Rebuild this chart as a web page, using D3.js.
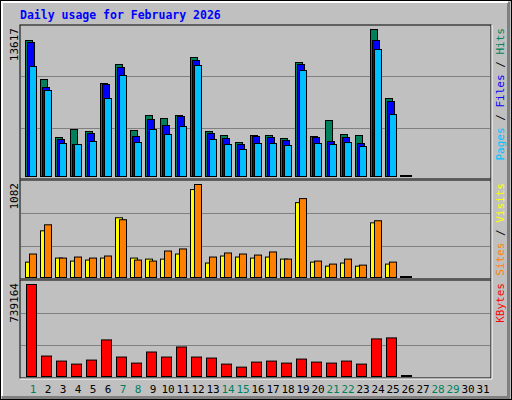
<!DOCTYPE html>
<html>
<meta charset="utf-8">
<style>
	body { margin: 0; background: #fff; }
	text { font-family: "DejaVu Sans Mono", monospace; }
</style>
<body>
<svg id="chart" width="512" height="400"></svg>
<script src="https://cdnjs.cloudflare.com/ajax/libs/d3/7.8.5/d3.min.js"></script>
<script>
	// values
	var days = d3.range(1, 32);
	var weekend = [1, 7, 8, 14, 15, 21, 22, 28, 29];
	var hits = [12598, 8985, 3613, 4354, 4168, 8615, 10375, 4261, 5650, 5373, 5650, 11023, 4168, 3798, 3149, 3798, 3798, 3520, 10560, 3705, 5187, 3890, 3798, 13617, 7225, 0];
	var files = [12412, 8244, 3427, 2964, 3983, 8522, 10097, 3705, 5280, 4724, 5558, 10745, 3983, 3520, 2964, 3705, 3613, 3335, 10375, 3613, 3242, 3613, 3057, 12598, 6947, 0];
	var pages = [10189, 7966, 3057, 2964, 3242, 7225, 9356, 3149, 4354, 3890, 4632, 10282, 3427, 2964, 2501, 3057, 3057, 2872, 9819, 3057, 2964, 3149, 2779, 11764, 5743, 0];
	var visits = [179, 543, 226, 191, 203, 226, 695, 226, 214, 214, 273, 1023, 168, 250, 238, 226, 238, 214, 871, 179, 132, 168, 132, 636, 156, 0];
	var sites = [273, 613, 226, 238, 226, 250, 672, 203, 191, 308, 332, 1082, 238, 285, 273, 261, 297, 214, 918, 191, 156, 214, 144, 660, 179, 0];
	var kbytes = [739164, 164349, 123869, 99581, 131965, 293885, 156253, 107677, 196733, 156253, 237213, 156253, 148157, 99581, 75293, 115773, 123869, 107677, 140061, 115773, 107677, 123869, 99581, 301981, 310077, 0];

	var svg = d3.select("#chart");

	// frame with bevel
	svg.append("rect").attr("x", 0.5).attr("y", 0.5).attr("width", 511).attr("height", 399)
		.attr("fill", "#c0c0c0").attr("stroke", "#000");
	svg.append("path").attr("d", "M2,397.5H508.5V2").attr("fill", "none").attr("stroke", "#808080").attr("stroke-width", 3);
	svg.append("path").attr("d", "M2,396V2H508").attr("fill", "none").attr("stroke", "#fff").attr("stroke-width", 2);

	svg.append("text").attr("x", 20).attr("y", 19)
		.attr("fill", "#0000ff").attr("font-weight", "bold").attr("font-size", 11.5)
		.text("Daily usage for February 2026");

	var x = d3.scaleLinear().domain([1, 32]).range([25, 25 + 15 * 31]);
	var left = 20, right = 491;

	var panels = [
		{ top: 25, bottom: 179, base: 176, max: 13617, series: [
			{ v: hits, c: "#00805c", dx: 0, w: 7 },
			{ v: files, c: "#0000ff", dx: 2, w: 7 },
			{ v: pages, c: "#00c0ff", dx: 4, w: 7 }],
			legend: [["Pages", "#00c0ff"], [" / ", "#000"], ["Files", "#0000ff"], [" / ", "#000"], ["Hits", "#00805c"]] },
		{ top: 180, bottom: 279, base: 277, max: 1082, series: [
			{ v: visits, c: "#ffff00", dx: 0, w: 7 },
			{ v: sites, c: "#ff8000", dx: 4, w: 7 }],
			legend: [["Sites", "#ff8000"], [" / ", "#000"], ["Visits", "#ffff00"]] },
		{ top: 280, bottom: 378, base: 376, max: 739164, series: [
			{ v: kbytes, c: "#ff0000", dx: 1, w: 10 }],
			legend: [["KBytes", "#ff0000"]] }
	];

	panels.forEach(function (p) {
		var g = svg.append("g");
		g.append("rect").attr("x", left).attr("y", p.top).attr("width", right - left).attr("height", p.bottom - p.top)
			.attr("fill", "#c0c0c0").attr("stroke", "#000");
		g.append("path").attr("d", "M" + left + "," + (p.bottom + 1) + "H" + (right + 1) + "V" + p.top)
			.attr("fill", "none").attr("stroke", "#fff");

		var y = d3.scaleLinear().domain([0, p.max]).range([p.base, p.top + 4]);
		var third = (p.bottom - p.top) / 3;
		[1, 2].forEach(function (k) {
			var gy = Math.round(p.top + third * k) + 0.5;
			g.append("line").attr("x1", left + 1).attr("x2", right - 1).attr("y1", gy).attr("y2", gy)
				.attr("stroke", "#808080");
		});

		p.series.forEach(function (s) {
			g.selectAll(null).data(s.v).enter().append("rect")
				.attr("x", function (d, i) { return x(i + 1) + s.dx + 0.5; })
				.attr("y", function (d) { return Math.min(y(d), p.base - 1) + 0.5; })
				.attr("width", s.w)
				.attr("height", function (d) { return Math.max(1, p.base - y(d)); })
				.attr("fill", function (d) { return d > 0 ? s.c : "#000"; })
				.attr("stroke", "#000");
		});

		g.append("text").attr("transform", "translate(18," + (p.top + 3) + ") rotate(-90)")
			.attr("text-anchor", "end").attr("font-size", 11).attr("fill", "#000")
			.attr("font-family", "Liberation Sans, sans-serif")
			.text(p.max);

		var lt = g.append("text").attr("transform", "translate(504," + (p.top + 3) + ") rotate(-90)")
			.attr("text-anchor", "end").attr("font-size", 11);
		p.legend.forEach(function (l) {
			lt.append("tspan").attr("fill", l[1]).text(l[0]);
		});
	});

	svg.selectAll(".day").data(days).enter().append("text")
		.attr("x", function (d) { return x(d) + 8; })
		.attr("y", 393)
		.attr("text-anchor", "middle").attr("font-size", 11)
		.attr("font-family", "Liberation Sans, sans-serif")
		.attr("fill", function (d) { return weekend.indexOf(d) >= 0 ? "#00805c" : "#000"; })
		.text(function (d) { return d; });
</script>
</body>
</html>
